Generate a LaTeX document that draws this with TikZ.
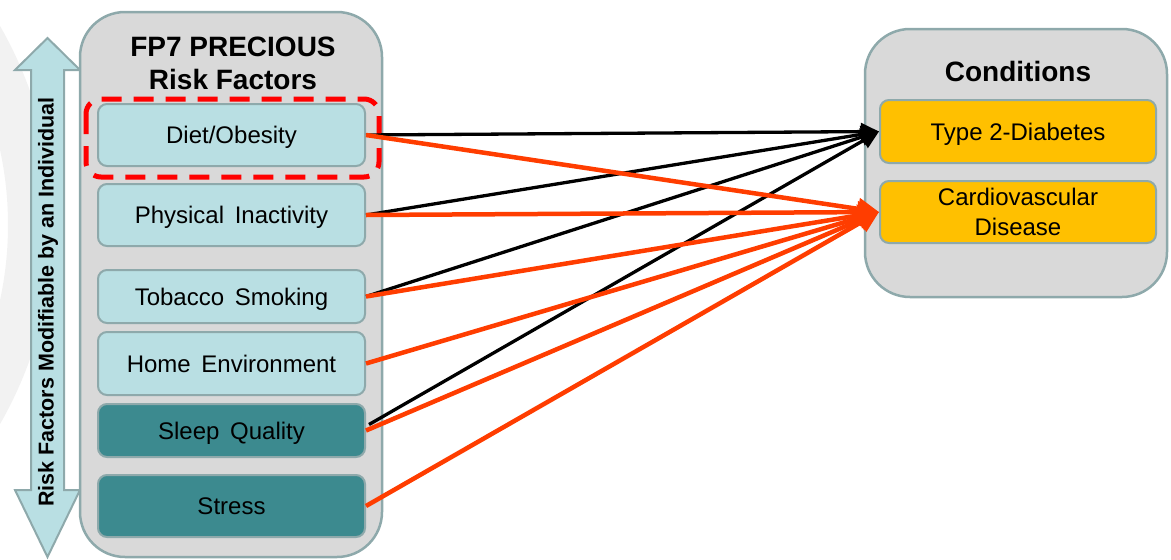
\documentclass[tikz,border=0pt]{standalone}
\usepackage{fontspec}
\setmainfont{Liberation Sans}
\usetikzlibrary{arrows.meta,calc}

\definecolor{edgegrey}{HTML}{8EA9AB}
\definecolor{panelfill}{HTML}{D9D9D9}
\definecolor{paleteal}{HTML}{B9DFE3}
\definecolor{deepteal}{HTML}{3C8A8F}
\definecolor{amber}{HTML}{FFC000}
\definecolor{linkred}{HTML}{FF3D00}
\definecolor{markred}{HTML}{FF0000}

\tikzset{
  panel/.style={draw=edgegrey, line width=2.5pt, fill=panelfill, rounded corners=45pt,
    inner sep=0pt},
  factor/.style={draw=edgegrey, line width=2pt, fill=paleteal, rounded corners=9pt,
    minimum width=267pt, inner sep=0pt, text height=17pt, text depth=0pt,
    font=\fontsize{24}{28}\selectfont},
  darkfactor/.style={factor, fill=deepteal},
  condition/.style={draw=edgegrey, line width=2pt, fill=amber, rounded corners=9pt,
    minimum width=276pt, inner sep=0pt, align=center,
    font=\fontsize{24}{30}\selectfont},
  heading/.style={font=\bfseries\fontsize{28}{33}\selectfont, align=center, inner sep=0pt},
  blacklink/.style={draw=black, line width=3.3pt,
    -{Triangle[length=18pt,width=17pt]}},
  redlink/.style={draw=linkred, line width=4.5pt,
    -{Triangle[length=21pt,width=21pt]}},
}

\begin{document}
\begin{tikzpicture}[x=1pt,y=-1pt]
\useasboundingbox (0,0) rectangle (1171,560);

% faint watermark ring at the left edge
\begin{scope}
  \clip (0,0) rectangle (1171,560);
  \fill[gray!10, even odd rule] (-347,225) circle[radius=400] (-347,225) circle[radius=355];
\end{scope}

% vertical double arrow
\draw[draw=edgegrey, line width=2pt, fill=paleteal, line join=miter]
  (47.5,38) -- (80,70) -- (64,70) -- (64,490) -- (80,490) -- (47.5,557)
  -- (15,490) -- (31,490) -- (31,70) -- (15,70) -- cycle;
\node[rotate=90, font=\bfseries\fontsize{21.5}{24}\selectfont, inner sep=0pt]
  (axislabel) at (48,302) {Risk Factors Modifiable by an Individual};

% panels
\node[panel, minimum width=302pt, minimum height=545pt] (factors) at (231,284.5) {};
\node[panel, minimum width=302pt, minimum height=268pt] (conds) at (1016,163) {};

\node[heading] (ftitle) at (233,63) {FP7 PRECIOUS\\Risk Factors};
\node[heading] (ctitle) at (1018,71) {Conditions};

% risk factors
\node[factor, minimum height=62pt] (diet) at (231.5,135) {Diet/Obesity};
\node[factor, minimum height=62pt] (phys) at (231.5,215) {Physical\, Inactivity};
\node[factor, minimum height=53pt] (tob) at (231.5,296.5) {Tobacco\, Smoking};
\node[factor, minimum height=63pt] (home) at (231.5,363.5) {Home\, Environment};
\node[darkfactor, minimum height=53pt] (sleep) at (231.5,430.5) {Sleep\, Quality};
\node[darkfactor, minimum height=62pt] (stress) at (231.5,506) {Stress};

% highlight around diet
\draw[markred, line width=5pt, dash pattern=on 20pt off 12pt, rounded corners=15pt]
  ($(diet.north west)+(-11,-4)$) rectangle ($(diet.south east)+(13,10)$);

% conditions
\node[condition, minimum height=63pt, text height=17pt, text depth=0pt] (t2d) at (1018,131.5) {Type 2-Diabetes};
\node[condition, minimum height=62pt] (cvd) at (1018,212) {Cardiovascular\\Disease};

% links to diabetes
\draw[blacklink] (diet.east) -- (t2d.west);
\draw[blacklink] (phys.east) -- (t2d.west);
\draw[blacklink] (tob.east) -- (t2d.west);
\draw[blacklink] ($(sleep.east)+(3,-6)$) -- (t2d.west);

% links to cardiovascular disease
\draw[redlink] (diet.east) -- (cvd.west);
\draw[redlink] (phys.east) -- (cvd.west);
\draw[redlink] (tob.east) -- (cvd.west);
\draw[redlink] (home.east) -- (cvd.west);
\draw[redlink] (sleep.east) -- (cvd.west);
\draw[redlink] (stress.east) -- (cvd.west);
\end{tikzpicture}
\end{document}
